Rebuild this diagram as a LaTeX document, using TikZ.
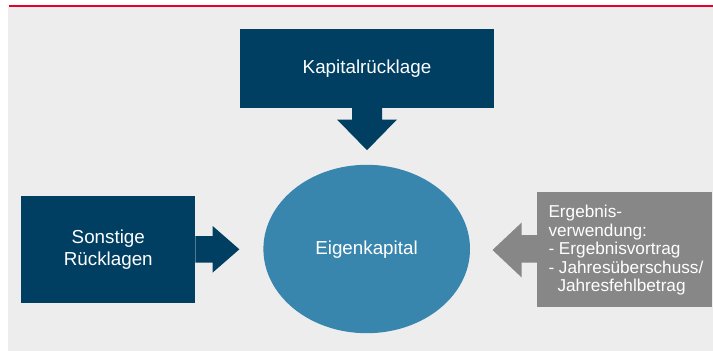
\documentclass[tikz,border=0pt]{standalone}
\usepackage{fontspec}
\setmainfont{Liberation Sans}
\usetikzlibrary{calc}
\definecolor{darkblue}{HTML}{003E62}
\definecolor{midblue}{HTML}{3886AE}
\definecolor{boxgray}{HTML}{878787}
\definecolor{bggray}{HTML}{EDEDED}
\definecolor{topred}{HTML}{E4002B}
\tikzset{
  bluebox/.style={draw=none, fill=darkblue, text=white, inner sep=0pt, align=center,
    font=\fontsize{18.8}{21.7}\selectfont},
  graybox/.style={draw=none, fill=boxgray, inner sep=0pt},
  bluearrow/.style={fill=darkblue, draw=none},
  grayarrow/.style={fill=boxgray, draw=none},
  ellnode/.style={ellipse, fill=midblue, text=white, font=\fontsize{18.8}{21.7}\selectfont}
}
\begin{document}
\begin{tikzpicture}[x=1pt, y=-1pt]
\useasboundingbox (0,0) rectangle (713,351);
\fill[bggray] (8,7) rectangle (713,351);
\fill[topred] (9,5) rectangle (713,6.8);
% top box
\node[bluebox, minimum width=254pt, minimum height=78.4pt] (kap) at (367,68.5) {Kapitalrücklage};
% left box
\node[bluebox, minimum width=173.7pt, minimum height=106.7pt] (son) at (108.3,249.3) {Sonstige\\Rücklagen};
% right box
\node[graybox, minimum width=175pt, minimum height=115pt] (erg) at (624.2,249.2) {};
\node[anchor=west, inner sep=0pt, align=left, text=white, font=\fontsize{17.2}{18.5}\selectfont] (ergtext) at (548.3,250.3)
  {Ergebnis-\\verwendung:\\- Ergebnisvortrag\\- Jahresüberschuss/\\\hspace*{9pt}Jahresfehlbetrag};
% ellipse
\fill[midblue] (366.7,249) ellipse [x radius=103.3, y radius=84.2];
\node[text=white, font=\fontsize{18.8}{21.7}\selectfont] (eig) at (366.5,250) {Eigenkapital};
% top arrow
\coordinate (ta) at (kap.south);
\fill[bluearrow] ($(ta)+(-15,0)$) -- ($(ta)+(15,0)$) -- ($(ta)+(15,11.6)$) -- ($(ta)+(30,11.6)$)
  -- ($(ta)+(0,42.3)$) -- ($(ta)+(-30,11.6)$) -- ($(ta)+(-15,11.6)$) -- cycle;
% left arrow
\coordinate (la) at (son.east);
\fill[bluearrow] ($(la)+(0,-13.3)$) -- ($(la)+(17.3,-13.3)$) -- ($(la)+(17.3,-23.3)$) -- ($(la)+(44,0)$)
  -- ($(la)+(17.3,23.3)$) -- ($(la)+(17.3,13.3)$) -- ($(la)+(0,13.3)$) -- cycle;
% right arrow
\coordinate (ra) at (erg.west);
\fill[grayarrow] ($(ra)+(0.5,-14.2)$) -- ($(ra)+(-15,-14.2)$) -- ($(ra)+(-15,-26.5)$) -- ($(ra)+(-44,0.8)$)
  -- ($(ra)+(-15,28.1)$) -- ($(ra)+(-15,13.5)$) -- ($(ra)+(0.5,13.5)$) -- cycle;
\end{tikzpicture}
\end{document}
